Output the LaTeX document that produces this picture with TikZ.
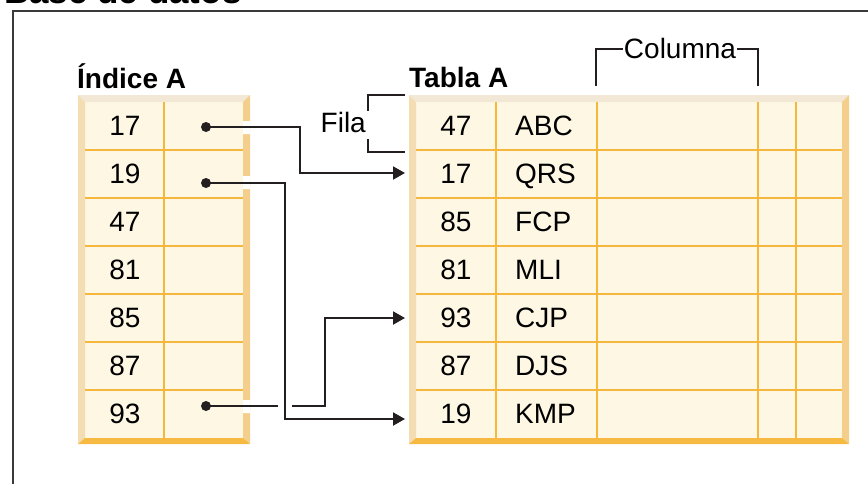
\documentclass[tikz,border=0pt]{standalone}
\usepackage{fontspec}
\setmainfont{Liberation Sans}
\usetikzlibrary{arrows.meta}

\definecolor{ink}{HTML}{231F20}
\definecolor{framecol}{HTML}{3A3A3A}
\definecolor{cellfill}{HTML}{FDF7E4}
\definecolor{gridline}{HTML}{F7B73D}
\definecolor{beveltop}{HTML}{F3E8D5}
\definecolor{bevelleft}{HTML}{F5DDB3}
\definecolor{bevelright}{HTML}{F4CF8C}
\definecolor{bevelbottom}{HTML}{F6B942}

% table body with bevelled rim: left, top, right, bottom
\newcommand\bevelbox[4]{%
  \fill[cellfill] (#1,#2) rectangle (#3,#4);
  \fill[beveltop] (#1,#2) -- (#3,#2) -- ({#3-7},{#2+7}) -- ({#1+7},{#2+7}) -- cycle;
  \fill[bevelleft] (#1,#2) -- ({#1+7},{#2+7}) -- ({#1+7},{#4-6}) -- (#1,#4) -- cycle;
  \fill[bevelright] (#3,#2) -- ({#3-7},{#2+7}) -- ({#3-7},{#4-6}) -- (#3,#4) -- cycle;
  \fill[bevelbottom] (#1,#4) -- ({#1+7},{#4-6}) -- ({#3-7},{#4-6}) -- (#3,#4) -- cycle;}

\begin{document}
\begin{tikzpicture}[x=1pt, y=-1pt,
    txt/.style={inner sep=0pt, anchor=base, font=\fontsize{28}{30}\selectfont},
    head/.style={inner sep=0pt, anchor=base west, font=\bfseries\fontsize{28}{30}\selectfont},
    grid/.style={draw=gridline, line width=2pt},
    dot/.style={circle, fill=ink, inner sep=0pt, minimum size=10pt},
    link/.style={draw=ink, line width=2pt, -{Triangle[length=12pt,width=13pt]}}]
  \useasboundingbox (0,0) rectangle (868,483);

  % outer frame and cut title
  \draw[framecol, line width=2pt] (13,495) -- (13,11) -- (880,11);
  \node[anchor=base west, inner sep=0pt, font=\bfseries\fontsize{35}{40}\selectfont]
    (db) at (4,3) {Base de datos};

  % index table
  \bevelbox{78}{95}{250}{444}
  \foreach \y in {150,198,246,294,342,390}
    \draw[grid] (85,\y) -- (243,\y);
  \draw[grid] (164,102) -- (164,438);
  \fill[white] (243,121) rectangle (250,134)
               (243,176) rectangle (250,189)
               (243,400) rectangle (250,413);

  % data table
  \bevelbox{409}{95}{849}{444}
  \foreach \y in {150,198,246,294,342,390}
    \draw[grid] (416,\y) -- (842,\y);
  \foreach \x in {496,597,758,796}
    \draw[grid] (\x,102) -- (\x,438);

  \path (77,88)  node [head] (IA) {Índice A}
        (409,87) node [head] (TA) {Tabla A}
        (125,135) node [txt] (I1) {17}
        (125,183) node [txt] (I2) {19}
        (125,231) node [txt] (I3) {47}
        (125,279) node [txt] (I4) {81}
        (125,327) node [txt] (I5) {85}
        (125,375) node [txt] (I6) {87}
        (125,423) node [txt] (I7) {93}
        (456,135) node [txt] (K1) {47}
        (456,183) node [txt] (K2) {17}
        (456,231) node [txt] (K3) {85}
        (456,279) node [txt] (K4) {81}
        (456,327) node [txt] (K5) {93}
        (456,375) node [txt] (K6) {87}
        (456,423) node [txt] (K7) {19}
        (515,135) node [txt, anchor=base west] (N1) {ABC}
        (515,183) node [txt, anchor=base west] (N2) {QRS}
        (515,231) node [txt, anchor=base west] (N3) {FCP}
        (515,279) node [txt, anchor=base west] (N4) {MLI}
        (515,327) node [txt, anchor=base west] (N5) {CJP}
        (515,375) node [txt, anchor=base west] (N6) {DJS}
        (515,423) node [txt, anchor=base west] (N7) {KMP};

  % row and column brackets
  \node[txt, anchor=base east] (fila) at (366,132) {Fila};
  \draw[ink, line width=2pt] (405,95) -- (368,95) -- (368,111)
                             (368,139) -- (368,152) -- (405,152);
  \draw[ink, line width=2pt] (596,86) -- (596,49) -- (758,49) -- (758,86);
  \node[txt, fill=white, inner sep=1pt] (col) at (680,58) {Columna};

  % pointers
  \node[dot] (d17) at (206,127) {};
  \node[dot] (d19) at (206,183) {};
  \node[dot] (d93) at (206,406) {};
  \coordinate (a17) at (405,173);
  \coordinate (a93) at (405,318);
  \coordinate (a19) at (405,419);
  \draw[link] (d17.center) -- ++(94,0) |- (a17);
  \draw[link] (d93.center) -- ++(119,0) |- (a93);
  \draw[white, line width=14pt] (285,192) -- (285,412);
  \draw[link] (d19.center) -- ++(79,0) |- (a19);
\end{tikzpicture}
\end{document}
